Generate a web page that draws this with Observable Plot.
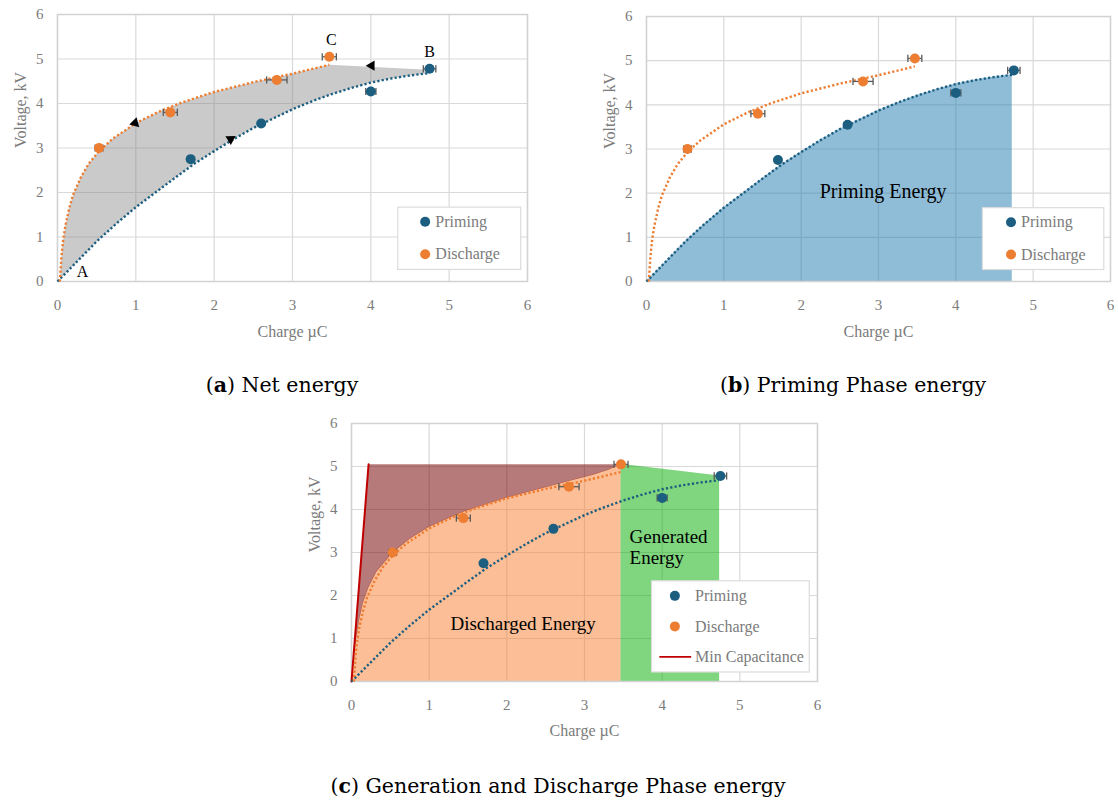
<!DOCTYPE html>
<html>
<head>
<meta charset="utf-8">
<script src="https://cdn.jsdelivr.net/npm/d3@7"></script>
<script src="https://cdn.jsdelivr.net/npm/@observablehq/plot@0.6"></script>
<style>
  body { margin: 0; background: #fff; }
  #page { position: relative; width: 1118px; height: 802px; overflow: hidden; background: #fff; }
  .panel { position: absolute; }
  .caption { position: absolute; font-family: "DejaVu Serif", serif; font-size: 20.5px; line-height: 26px;
             color: #000; transform: translateX(-50%); white-space: nowrap; }
</style>
</head>
<body>
<div id="page"></div>
<script>
// ---- axis ticks ----
const xTicks = [0, 1, 2, 3, 4, 5, 6];
const yTicks = [0, 1, 2, 3, 4, 5, 6];

// ---- measured points (charge µC, voltage kV, ± charge error) ----
const primingQ   = [1.70, 2.60, 4.00, 4.75];
const primingV   = [2.75, 3.55, 4.27, 4.78];
const primingErr = [0.02, 0.02, 0.065, 0.08];

const dischargeQ   = [0.53, 1.44, 2.80, 3.47];
const dischargeV   = [3.00, 3.80, 4.53, 5.05];
const dischargeErr = [0.05, 0.09, 0.13, 0.09];

// ---- trend curves [charge, voltage] ----
const primingTrend = [
  [0, 0], [0.25, 0.45], [0.5, 0.9], [0.75, 1.3], [1.0, 1.67], [1.25, 2.0], [1.5, 2.33],
  [1.75, 2.65], [2.0, 2.93], [2.25, 3.2], [2.5, 3.45], [2.75, 3.66], [3.0, 3.87],
  [3.25, 4.05], [3.5, 4.21], [3.75, 4.35], [4.0, 4.47], [4.25, 4.56], [4.5, 4.63], [4.73, 4.68]
];
const dischargeTrend = [
  [0.03, 0], [0.05, 0.55], [0.07, 0.9], [0.1, 1.25], [0.15, 1.65], [0.2, 1.95], [0.3, 2.35],
  [0.4, 2.65], [0.53, 2.93], [0.7, 3.2], [1.0, 3.56], [1.3, 3.82], [1.6, 4.03], [2.0, 4.26],
  [2.5, 4.48], [3.0, 4.67], [3.47, 4.87]
];
// upper edge of the discharged-energy region
const dischargeEdge = [
  [0, 0], [0.03, 0.5], [0.06, 1.0], [0.1, 1.45], [0.15, 1.85], [0.22, 2.2], [0.32, 2.55],
  [0.53, 3.0], [0.75, 3.32], [1.0, 3.6], [1.44, 3.95], [2.0, 4.28], [2.5, 4.52], [2.8, 4.66],
  [3.1, 4.8], [3.3, 4.92], [3.47, 5.05]
];
// B -> C leg of the cycle
const cycleTop = [[3.47, 4.9], [4.73, 4.76]];
// minimum-capacitance line
const minCapacitance = [[0, 0], [0.22, 5.05]];
// top of the generated-energy region
const generatedTop = [[3.47, 5.05], [4.74, 4.78]];
// direction arrows around the cycle
const arrowQ     = [0.99, 2.21, 4.01];
const arrowV     = [3.56, 3.20, 4.85];
const arrowAngle = [15, 178, -90];

const BLUE = "#1b5e80", ORANGE = "#ed7d31", ERR = "#5a5a5a", AXIS = "#7b7b7b", GRID = "#d9d9d9";
const FONT = '"Liberation Serif", serif';

const priming   = primingQ.map((q, i) => ({q, v: primingV[i], e: primingErr[i]}));
const discharge = dischargeQ.map((q, i) => ({q, v: dischargeV[i], e: dischargeErr[i]}));
const arrows    = arrowQ.map((q, i) => ({q, v: arrowV[i], a: arrowAngle[i]}));

const px = d => d[0], py = d => d[1];

// vertical cap for error bars
const capSymbol = {draw(ctx, size) { const h = Math.sqrt(size / Math.PI); ctx.moveTo(0, -h); ctx.lineTo(0, h); }};

function pointMarks(rows, color) {
  return [
    Plot.link(rows, {x1: d => d.q - d.e, x2: d => d.q + d.e, y1: "v", y2: "v", stroke: ERR, strokeWidth: 1.3}),
    Plot.dot(rows, {x: d => d.q - d.e, y: "v", symbol: capSymbol, r: 3.6, stroke: ERR, fill: "none", strokeWidth: 1.3}),
    Plot.dot(rows, {x: d => d.q + d.e, y: "v", symbol: capSymbol, r: 3.6, stroke: ERR, fill: "none", strokeWidth: 1.3}),
    Plot.dot(rows, {x: "q", y: "v", r: 5, fill: color})
  ];
}
const dotted = {strokeWidth: 2.4, strokeDasharray: "2.2 2.2", strokeLinecap: "butt", strokeLinejoin: "miter"};
function trendMarks() {
  return [
    Plot.line(primingTrend, {x: px, y: py, stroke: BLUE, ...dotted}),
    Plot.line(dischargeTrend, {x: px, y: py, stroke: ORANGE, ...dotted})
  ];
}

function makePanel({left, top, width, height, ml, mr, mt, mb, xLabelDy, fills, overlay}) {
  const plot = Plot.plot({
    width, height, marginLeft: ml, marginRight: mr, marginTop: mt, marginBottom: mb,
    style: {fontFamily: FONT, fontSize: "15px", color: AXIS, background: "transparent", overflow: "visible"},
    x: {domain: [0, 6], ticks: xTicks, tickFormat: d => String(d), tickSize: 0, tickPadding: 18, label: null},
    y: {domain: [0, 6], ticks: yTicks, tickFormat: d => String(d), tickSize: 0, tickPadding: 14, label: null},
    marks: [
      Plot.ruleX(xTicks, {stroke: GRID, strokeWidth: 1.2}),
      Plot.ruleY(yTicks, {stroke: GRID, strokeWidth: 1.2}),
      ...fills,
      Plot.frame({stroke: "#d2d2d2", strokeWidth: 1.5}),
      ...overlay,
      Plot.text(["Charge µC"], {text: d => d, frameAnchor: "bottom", dy: xLabelDy, fontSize: 16, fill: AXIS}),
      Plot.text(["Voltage, kV"], {text: d => d, frameAnchor: "left", dx: -37, rotate: -90, fontSize: 16, fill: AXIS})
    ]
  });
  const holder = document.createElement("div");
  holder.className = "panel";
  holder.style.left = left + "px";
  holder.style.top = top + "px";
  holder.appendChild(plot);
  document.getElementById("page").appendChild(holder);
  boxNotes(plot);
  return plot;
}

// white boxes behind annotation text
function boxNotes(svg) {
  svg.querySelectorAll('g[aria-label="note"] text').forEach(t => {
    const b = t.getBBox();
    const r = document.createElementNS("http://www.w3.org/2000/svg", "rect");
    r.setAttribute("x", b.x - 3.5);
    r.setAttribute("y", b.y - 1.5);
    r.setAttribute("width", b.width + 7);
    r.setAttribute("height", b.height + 3);
    r.setAttribute("fill", "white");
    if (t.getAttribute("transform")) r.setAttribute("transform", t.getAttribute("transform"));
    t.parentNode.insertBefore(r, t);
  });
}

function drawLegend(svg, spec) {
  const sx = svg.scale("x"), sy = svg.scale("y");
  const X = d3.scaleLinear(sx.domain, sx.range), Y = d3.scaleLinear(sy.domain, sy.range);
  const g = d3.select(svg).append("g").attr("font-family", FONT).attr("font-size", 16).attr("text-anchor", "start");
  const [x1, x2, y1, y2] = spec.box;
  g.append("rect").attr("x", X(x1)).attr("y", Y(y2)).attr("width", X(x2) - X(x1)).attr("height", Y(y1) - Y(y2))
    .attr("fill", "white").attr("stroke", "#dcdcdc").attr("stroke-width", 1.2);
  spec.items.forEach(it => {
    if (it.kind === "dot") {
      g.append("circle").attr("cx", X(spec.dotX)).attr("cy", Y(it.y)).attr("r", 5).attr("fill", it.color);
    } else {
      g.append("line").attr("x1", X(spec.lineX[0])).attr("x2", X(spec.lineX[1]))
        .attr("y1", Y(it.y)).attr("y2", Y(it.y)).attr("stroke", it.color).attr("stroke-width", 1.6);
    }
    g.append("text").attr("x", X(spec.textX)).attr("y", Y(it.y)).attr("dy", "0.32em")
      .attr("fill", AXIS).text(it.label);
  });
}

function addCaption(html, cx, cy) {
  const d = document.createElement("div");
  d.className = "caption";
  d.innerHTML = html;
  d.style.left = cx + "px";
  d.style.top = (cy - 13) + "px";
  document.getElementById("page").appendChild(d);
}

// ---------- (a) net energy ----------
const netRegion = [...dischargeTrend, ...cycleTop.slice(1), ...primingTrend.slice().reverse()];
const cornerA = [primingTrend[0]];
const cornerB = [priming[priming.length - 1]];
const cornerC = [discharge[discharge.length - 1]];

const plotA = makePanel({
  left: 0, top: 0, width: 545, height: 345, ml: 57, mr: 18, mt: 14, mb: 64, xLabelDy: 55,
  fills: [
    Plot.line(netRegion, {x: px, y: py, fill: "#808080", fillOpacity: 0.42, stroke: "none"})
  ],
  overlay: [
    ...trendMarks(),
    ...pointMarks(priming, BLUE),
    ...pointMarks(discharge, ORANGE),
    Plot.dot(arrows, {x: "q", y: "v", symbol: "triangle", r: 3.8, fill: "black", rotate: "a"}),
    Plot.text(cornerA, {x: px, y: py, text: () => "A", dx: 25, dy: -10, fill: "black", fontSize: 16}),
    Plot.text(cornerB, {x: "q", y: "v", text: () => "B", dy: -17, fill: "black", fontSize: 16}),
    Plot.text(cornerC, {x: "q", y: "v", text: () => "C", dx: 2, dy: -17, fill: "black", fontSize: 16})
  ]
});
drawLegend(plotA, {box: [4.35, 5.92, 0.26, 1.66], dotX: 4.70, textX: 4.83, items: [
  {kind: "dot", y: 1.33, color: BLUE, label: "Priming"},
  {kind: "dot", y: 0.60, color: ORANGE, label: "Discharge"}
]});
addCaption("(<b>a</b>) Net energy", 282, 385);

// ---------- (b) priming phase energy ----------
const plotB = makePanel({
  left: 560, top: 0, width: 558, height: 345, ml: 86, mr: 8, mt: 16, mb: 64, xLabelDy: 55,
  fills: [
    Plot.areaY(primingTrend, {x: px, y: py, fill: "#2079b0", fillOpacity: 0.5})
  ],
  overlay: [
    Plot.text(["Priming Energy"], {x: 3.06, y: 2.03, text: d => d, fill: "black", fontSize: 20, ariaLabel: "note"}),
    ...trendMarks(),
    ...pointMarks(priming, BLUE),
    ...pointMarks(discharge, ORANGE)
  ]
});
drawLegend(plotB, {box: [4.35, 5.92, 0.26, 1.66], dotX: 4.72, textX: 4.85, items: [
  {kind: "dot", y: 1.33, color: BLUE, label: "Priming"},
  {kind: "dot", y: 0.60, color: ORANGE, label: "Discharge"}
]});
addCaption("(<b>b</b>) Priming Phase energy", 853, 385);

// ---------- (c) generation and discharge phase energy ----------
const lossRegion = [...minCapacitance, ...dischargeEdge.slice().reverse()];
const plotC = makePanel({
  left: 290, top: 405, width: 540, height: 340, ml: 61, mr: 13, mt: 18, mb: 64, xLabelDy: 54,
  fills: [
    Plot.areaY(dischargeEdge, {x: px, y: py, fill: "#f97d2d", fillOpacity: 0.5}),
    Plot.line(lossRegion, {x: px, y: py, fill: "#730000", fillOpacity: 0.52, stroke: "none"}),
    Plot.areaY(generatedTop, {x: px, y: py, fill: "#00ad00", fillOpacity: 0.5})
  ],
  overlay: [
    Plot.line(minCapacitance, {x: px, y: py, stroke: "#c00000", strokeWidth: 2}),
    Plot.text(["Discharged Energy"], {x: 2.21, y: 1.33, text: d => d, fill: "black", fontSize: 19, ariaLabel: "note"}),
    Plot.text(["Generated\nEnergy"], {x: 3.58, y: 3.13, text: d => d, fill: "black", fontSize: 19, lineHeight: 1.1,
      textAnchor: "start", ariaLabel: "note"}),
    ...trendMarks(),
    ...pointMarks(priming, BLUE),
    ...pointMarks(discharge, ORANGE)
  ]
});
drawLegend(plotC, {box: [3.87, 5.9, 0.21, 2.33], dotX: 4.17, textX: 4.43, lineX: [3.97, 4.38], items: [
  {kind: "dot", y: 1.98, color: BLUE, label: "Priming"},
  {kind: "dot", y: 1.27, color: ORANGE, label: "Discharge"},
  {kind: "line", y: 0.56, color: "#c00000", label: "Min Capacitance"}
]});
addCaption("(<b>c</b>) Generation and Discharge Phase energy", 558, 786);
</script>
</body>
</html>
